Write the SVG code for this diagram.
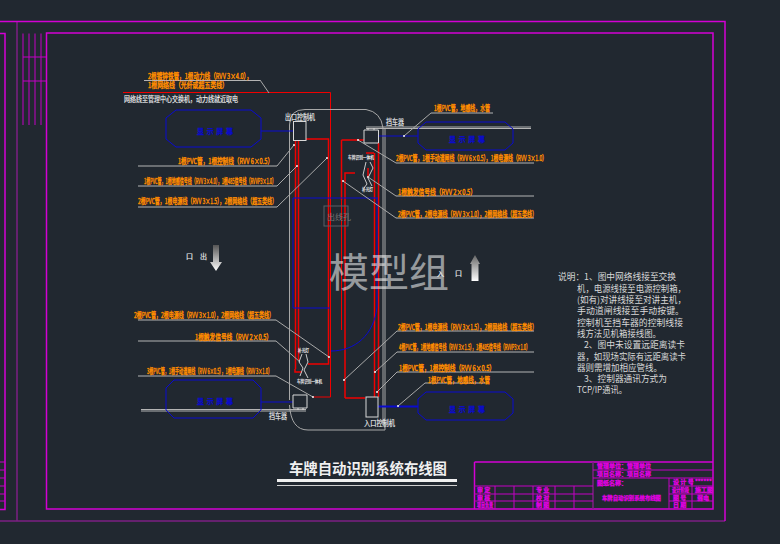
<svg xmlns="http://www.w3.org/2000/svg" width="780" height="544" viewBox="0 0 780 544">
<style>
text{font-family:"Noto Sans CJK SC","Liberation Sans",sans-serif}
.o{fill:#ff8c00;stroke:#ff8c00;stroke-width:.45;font-size:8px}
.w{fill:#f0f0f0;stroke:#f0f0f0;stroke-width:.15;font-size:8px}
.n{fill:#d8d8d8;font-size:9px}
.m{fill:#e000e0;stroke:#e000e0;stroke-width:.4;font-size:6px}
.b{fill:#0a0ad0;stroke:#0a0ad0;stroke-width:.3;font-size:7px}
.fr{fill:none;stroke:#d400d4;stroke-width:1.5}
.fd{fill:none;stroke:#7c1f82;stroke-width:1.5}
.ft{fill:none;stroke:#c400c4;stroke-width:1}
.r{fill:none;stroke:#f00000;stroke-width:1.5}
.rt{fill:none;stroke:#f00000;stroke-width:1}
.bl{fill:none;stroke:#0a0ad0;stroke-width:1}
.g{fill:none;stroke:#a8a8a8;stroke-width:1}
.gu{fill:none;stroke:#b4b4b4;stroke-width:1.2}
.box{fill:none;stroke:#d8d8d8;stroke-width:1}
.dot{fill:#f0f0f0}
</style>
<defs>
<linearGradient id="ad" x1="0" y1="0" x2="0" y2="1"><stop offset="0" stop-color="#555"/><stop offset="1" stop-color="#fff"/></linearGradient>
<linearGradient id="au" x1="0" y1="0" x2="0" y2="1"><stop offset="0" stop-color="#666"/><stop offset="1" stop-color="#fff"/></linearGradient>
</defs>
<rect width="780" height="544" fill="#212830"/>
<g id="frame">
<path class="fd" d="M17 21V521M0 521H725"/>
<path class="fr" d="M0 21.500H725V521"/>
<path class="fr" d="M0 33.500H5V509.500H0M46.500 33H713V509H46.500Z"/>
<path class="ft" d="M23 33.500V125M29 33.500V125M35 33.500V125M41 33.500V125M23 57H46M23 81H46"/>
<path class="ft" d="M0 462H5M0 470H5M0 478H5M0 486H5M0 494H5M0 501H5"/>
</g>
<g id="title-block">
<path class="fr" d="M474.500 462H713"/><path class="fr" d="M474.500 462V509"/>
<path class="fd" d="M593 462V509"/>
<path class="ft" d="M593 470H713M593 478H713M474 486H593M474 494H593M474 501H593M669 478V509M692 478V509M669 486H713M669 494H713M669 501H713M495 486V509M514 486V509M533 486V509M555 486V509M574 486V509"/>
<g class="m">
<text x="597" y="468">管理单位：管理单位</text><text x="597" y="476">项目名称：项目名称</text><text x="597" y="485">图纸名称：</text>
<text x="602" y="500" textLength="59" lengthAdjust="spacingAndGlyphs">车牌自动识别系统布线图</text>
<text x="477" y="492">审 定</text><text x="477" y="500">审 核</text><text x="477" y="507" textLength="16" lengthAdjust="spacingAndGlyphs">项目负责</text>
<text x="536" y="492">专 业</text><text x="536" y="500">校 对</text><text x="536" y="507">制 图</text>
<text x="673" y="484">设 计 号</text><text x="672" y="492" textLength="17" lengthAdjust="spacingAndGlyphs">设计阶段</text><text x="673" y="500">图 号</text><text x="673" y="507">日 期</text>
<text x="695" y="484">******</text><text x="695" y="492">施工图</text><text x="697" y="500">弱电</text>
</g>
</g>
<g id="connectors">
<path class="rt" d="M123 92.500H330.500V139"/>
<path class="g" d="M289.500 400V125Q289.500 109.500 305 109.500H366Q381 112 383 128V425"/>
<path class="g" d="M385 128V430H308Q291 430 289.500 405"/>
<path class="gu" d="M366 127H531M366 128.500H531M141 409.500H306M141 411H306"/>
<path class="r" d="M306 139H328.500V364H308M295.500 140V369M298.500 140V360"/>
<path class="rt" d="M330.500 139V397H313"/>
<path class="r" d="M295 369V372H302M341.500 140H364M341.500 140V200"/>
<path class="r" d="M345 398V173H355M345 398H365"/>
<path class="rt" d="M341.500 200V330"/>
<path class="r" d="M378.500 143V397M374.500 153V397M374 153H366M368 168V178"/>
<path class="bl" d="M293 308V198H378M293 308H330M331 351C355 351 374 335 377 307V198"/>
<path class="bl" d="M261 131H293M378 136H418M261 402H293" />
<path d="M378 406.500H418" fill="none" stroke="#0a0ad0" stroke-width="2"/>
<path class="gu" d="M144 80.500H260"/><path class="g" d="M260 80L269 93"/>
<path class="gu" d="M138 166H277M138 186H277M138 207H277M431 113H493M396 163H534M396 196H534M396 218H534M138 320H276M138 341H276M138 376H276M397 331H534M397 352H534M397 372H534M425 383H487"/>
<path class="g" d="M277 166L294 145M277 186L297 166M277 207L327 158M431 113L404 136M396 163L358 140M396 196L368 177M396 218L343 181M276 320L329 357M276 341L300 362M276 376L313 397M397 331L344 380M397 352L375 372M397 372L377 392M425 383L398 406"/>
<g class="dot"><circle cx="294" cy="145" r="1"/><circle cx="297" cy="166" r="1"/><circle cx="327" cy="158" r="1"/><circle cx="404" cy="136" r="1"/><circle cx="358" cy="140" r="1"/><circle cx="368" cy="177" r="1"/><circle cx="343" cy="181" r="1"/><circle cx="329" cy="357" r="1"/><circle cx="313" cy="397" r="1"/><circle cx="344" cy="380" r="1"/><circle cx="375" cy="372" r="1"/><circle cx="377" cy="392" r="1"/><circle cx="398" cy="406" r="1"/></g>
</g>
<g id="display-tl"><path class="bl" d="M176 110H251L261 118V139L251 147H176L166 139V118Z"/><text class="b" x="197" y="134" textLength="36">显示屏幕</text></g>
<g id="display-tr"><path class="bl" d="M426 122H505L513 129V143L505 150H426L418 143V129Z"/><text class="b" x="449" y="142" textLength="36">显示屏幕</text></g>
<g id="display-bl"><path class="bl" d="M174 380H253L261 388V410L253 418H174L166 410V388Z"/><text class="b" x="197" y="404" textLength="36">显示屏幕</text></g>
<g id="display-br"><path class="bl" d="M426 392H505L513 399V413L505 420H426L418 413V399Z"/><text class="b" x="449" y="412" textLength="36">显示屏幕</text></g>
<g id="exit-controller"><rect class="box" x="293.500" y="121.500" width="12.500" height="19"/><text class="w" x="285" y="120" textLength="30" lengthAdjust="spacingAndGlyphs">出口控制机</text></g>
<g id="entry-controller"><rect class="box" x="366" y="397" width="12" height="20"/><text class="w" x="364" y="426" textLength="31" lengthAdjust="spacingAndGlyphs">入口控制机</text></g>
<g id="barrier-top"><path class="box" d="M364 130H378.500V143H364ZM368 130V128M374 130V128"/><text class="w" x="386" y="125" textLength="18" lengthAdjust="spacingAndGlyphs">挡车器</text></g>
<g id="barrier-bottom"><path class="box" d="M293 395H307V408H293ZM298 408V410M303 408V410"/><text class="w" x="269" y="419" textLength="18" lengthAdjust="spacingAndGlyphs">挡车器</text></g>
<g id="camera-top"><path d="M366 162L363 175L367 184L364 188M370 162L373 168L368 178L372 186" fill="none" stroke="#ccc"/><text class="w" style="font-size:5px" x="348" y="159" textLength="26" lengthAdjust="spacingAndGlyphs">车牌识别一体机</text><text class="w" style="font-size:5px" x="362" y="191" textLength="11" lengthAdjust="spacingAndGlyphs">补光灯</text></g>
<g id="camera-bottom"><path d="M302 354L299 362L303 368L300 376M306 354L308 362L304 370L308 378" fill="none" stroke="#ccc"/><text class="w" style="font-size:5px" x="298" y="352" textLength="11" lengthAdjust="spacingAndGlyphs">补光灯</text><text class="w" style="font-size:5px" x="297" y="383" textLength="25" lengthAdjust="spacingAndGlyphs">车牌识别一体机</text></g>
<g id="cable-hole"><rect x="324" y="206" width="24" height="20" fill="none" stroke="#5a5f66"/><text x="327" y="220" style="font-size:8px" fill="#777">出线孔</text></g>
<g id="labels">
<text class="o" x="148" y="79" textLength="104" lengthAdjust="spacingAndGlyphs">2根镀锌铁管，1根动力线（RVV 3×4.0），</text>
<text class="o" x="148" y="88" textLength="80" lengthAdjust="spacingAndGlyphs">1根网络线（光纤或超五类线）</text>
<text class="w" x="124" y="102" textLength="114" lengthAdjust="spacingAndGlyphs">网络线至管理中心交换机，动力线就近取电</text>
<text class="o" x="178" y="164" textLength="95" lengthAdjust="spacingAndGlyphs">1根PVC管，1根控制线（RVV 6×0.5）</text>
<text class="o" x="144" y="184" textLength="132" lengthAdjust="spacingAndGlyphs">1根PVC管，1根地感信号线（RVV 3×4.0），1根485信号线（RVVP3×1.0）</text>
<text class="o" x="138" y="204" textLength="139" lengthAdjust="spacingAndGlyphs">2根PVC管，1根电源线（RVV 3×1.5），2根网络线（超五类线）</text>
<text class="o" x="434" y="111" textLength="56" lengthAdjust="spacingAndGlyphs">1根PVC管，地感线，水管</text>
<text class="o" x="396" y="161" textLength="151" lengthAdjust="spacingAndGlyphs">2根PVC管，1根手动道闸线（RVV 6×0.5），1根电源线（RVV 3×1.0）</text>
<text class="o" x="398" y="195" textLength="78" lengthAdjust="spacingAndGlyphs">1根触发信号线（RVV 2×0.5）</text>
<text class="o" x="398" y="217" textLength="139" lengthAdjust="spacingAndGlyphs">2根PVC管，2根电源线（RVV 3×1.0），2根网络线（超五类线）</text>
<text class="o" x="134" y="318" textLength="140" lengthAdjust="spacingAndGlyphs">2根PVC管，2根电源线（RVV 3×1.0），2根网络线（超五类线）</text>
<text class="o" x="195" y="340" textLength="77" lengthAdjust="spacingAndGlyphs">1根触发信号线（RVV 2×0.5）</text>
<text class="o" x="147" y="374" textLength="125" lengthAdjust="spacingAndGlyphs">3根PVC管，1根手动道闸线（RVV 6×0.5），1根电源线（RVV 3×1.0）</text>
<text class="o" x="398" y="330" textLength="139" lengthAdjust="spacingAndGlyphs">2根PVC管，1根电源线（RVV 3×1.5），2根网络线（超五类线）</text>
<text class="o" x="399" y="350" textLength="131" lengthAdjust="spacingAndGlyphs">4根PVC管，1根地感信号线（RVV 3×1.5），1根485信号线（RVVP3×1.0）</text>
<text class="o" x="399" y="371" textLength="96" lengthAdjust="spacingAndGlyphs">1根PVC管，1根控制线（RVV 6×0.5）</text>
<text class="o" x="428" y="383" textLength="62" lengthAdjust="spacingAndGlyphs">1根PVC管，地感线，水管</text>
</g>
<g id="direction-exit"><text class="w" style="font-size:7px" x="186" y="259">口</text><text class="w" style="font-size:7px" x="200" y="259">出</text><path d="M213 245H219V262H222L216 271L210 262H213Z" fill="url(#ad)"/></g>
<g id="direction-entry"><text class="w" style="font-size:7px" x="437" y="276">入</text><text class="w" style="font-size:7px" x="455" y="276">口</text><path d="M475 255L480 264H478.500V281H471.500V264H470Z" fill="url(#au)"/></g>
<g id="notes" class="n">
<text x="558" y="280" textLength="118" lengthAdjust="spacingAndGlyphs">说明：1、图中网络线接至交换</text>
<text x="577" y="292" textLength="109" lengthAdjust="spacingAndGlyphs">机，电源线接至电源控制箱，</text>
<text x="577" y="303" textLength="109" lengthAdjust="spacingAndGlyphs">(如有)对讲线接至对讲主机，</text>
<text x="577" y="314" textLength="107" lengthAdjust="spacingAndGlyphs">手动道闸线接至手动按键。</text>
<text x="577" y="326" textLength="106" lengthAdjust="spacingAndGlyphs">控制机至挡车器的控制线接</text>
<text x="577" y="337" textLength="84" lengthAdjust="spacingAndGlyphs">线方法见机箱接线图。</text>
<text x="584" y="348" textLength="101" lengthAdjust="spacingAndGlyphs">2、图中未设置远距离读卡</text>
<text x="577" y="360" textLength="109" lengthAdjust="spacingAndGlyphs">器，如现场实际有远距离读卡</text>
<text x="577" y="371" textLength="85" lengthAdjust="spacingAndGlyphs">器则需增加相应管线。</text>
<text x="584" y="382" textLength="83" lengthAdjust="spacingAndGlyphs">3、控制器通讯方式为</text>
<text x="577" y="393" textLength="50" lengthAdjust="spacingAndGlyphs">TCP/IP通讯。</text>
</g>
<g id="title"><text x="289" y="474" style="font-size:14.400px;font-weight:700" fill="#f0f0f0" textLength="158">车牌自动识别系统布线图</text><rect x="277" y="479" width="180" height="3" fill="#f0f0f0"/><rect x="277" y="485" width="180" height="1" fill="#cfcfcf"/></g>
<text id="watermark" x="329" y="287" style="font-size:40px" fill="#ffffff" fill-opacity=".55">模型组</text>
</svg>
